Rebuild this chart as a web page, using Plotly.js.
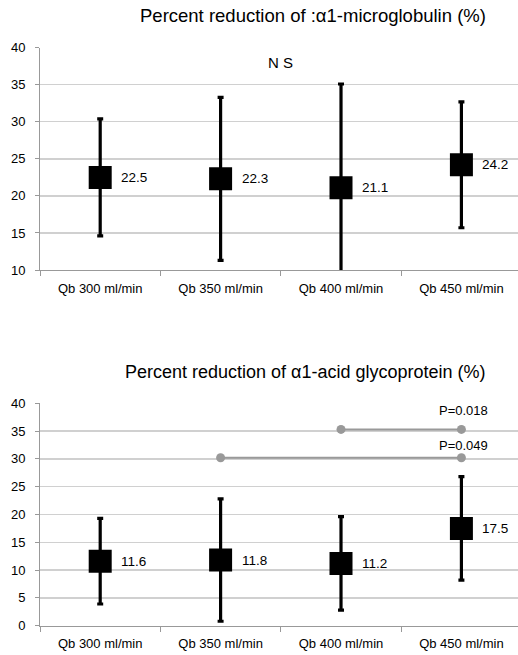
<!DOCTYPE html>
<html><head><meta charset="utf-8">
<script src="https://cdn.plot.ly/plotly-3.0.1.min.js"></script>
<style>html,body{margin:0;padding:0;background:#fff}</style>
</head><body><div id="chart" style="width:518px;height:655px"></div>
<script>
const categories = ["Qb 300 ml/min", "Qb 350 ml/min", "Qb 400 ml/min", "Qb 450 ml/min"];
const a1mMeans = [22.5, 22.3, 21.1, 24.2];
const a1mErrors = [7.9, 11.0, 14.0, 8.5];
const agpMeans = [11.6, 11.8, 11.2, 17.5];
const agpErrors = [7.7, 11.0, 8.4, 9.3];
const sigFrom = [categories[2], categories[1]];
const sigTo = [categories[3], categories[3]];
const sigLevels = [35.3, 30.2];
const sigLabels = ["P=0.018", "P=0.049"];
const sigLabelY = [38.7, 32.4];
const nsLabel = "N S";
const nsY = 38;
const titleTop = "Percent reduction of :α1-microglobulin (%)";
const titleBottom = "Percent reduction of α1-acid glycoprotein (%)";

const FONT = '"Liberation Sans", Arial, Helvetica, sans-serif';

function meanTrace(means, errs, xa, ya) {
  return {
    type: 'scatter', mode: 'markers', x: categories, y: means,
    xaxis: xa, yaxis: ya,
    marker: {symbol: 'square', size: 23, color: '#000'},
    error_y: {type: 'data', array: errs, visible: true, color: '#000', thickness: 3.2, width: 3},
    cliponaxis: true, hoverinfo: 'skip'
  };
}

const traces = [
  meanTrace(a1mMeans, a1mErrors, 'x', 'y'),
];
for (let i = 0; i < sigLevels.length; i++) {
  traces.push({
    type: 'scatter', mode: 'lines+markers', x: [sigFrom[i], sigTo[i]], y: [sigLevels[i], sigLevels[i]],
    xaxis: 'x2', yaxis: 'y2',
    line: {color: '#999', width: 2}, marker: {color: '#999', size: 9}, hoverinfo: 'skip'
  });
}
traces.push(meanTrace(agpMeans, agpErrors, 'x2', 'y2'));

function xax(anchor) {
  return {
    type: 'category', categoryorder: 'array', categoryarray: categories,
    range: [-0.5, 3.47], anchor: anchor, tickson: 'boundaries',
    ticks: 'outside', ticklen: 5, tickcolor: '#999', tickwidth: 1,
    showline: true, linecolor: '#999', linewidth: 1, showgrid: false, zeroline: false,
    tickfont: {size: 13, color: '#000', family: FONT}, ticklabelstandoff: 6,
    fixedrange: true, automargin: false
  };
}
function yax(anchor, range, domain) {
  return {
    range: range, domain: domain, anchor: anchor, dtick: 5, tick0: 0,
    ticks: 'outside', ticklen: 4, tickcolor: '#999', tickwidth: 1,
    showline: true, linecolor: '#999', linewidth: 1,
    showgrid: true, gridcolor: '#d0d0d0', gridwidth: 1.3, zeroline: false,
    tickfont: {size: 13, color: '#000', family: FONT}, ticklabelstandoff: 7,
    fixedrange: true, automargin: false
  };
}

const annotations = [
  {xref: 'paper', yref: 'paper', x: 0.937, y: 1 - 15 / 655, xanchor: 'right', yanchor: 'middle',
   text: titleTop, showarrow: false, font: {size: 18.5, color: '#000', family: FONT}},
  {xref: 'paper', yref: 'paper', x: 0.937, y: 1 - 372 / 655, xanchor: 'right', yanchor: 'middle',
   text: titleBottom, showarrow: false, font: {size: 18, color: '#000', family: FONT}},
  {xref: 'x', yref: 'y', x: 1.5, y: nsY, text: nsLabel, showarrow: false,
   font: {size: 15, color: '#000', family: FONT}}
];
function valueLabels(means, xr, yr) {
  means.forEach((v, i) => annotations.push({
    xref: xr, yref: yr, x: categories[i], y: v, text: v.toFixed(1), showarrow: false,
    xanchor: 'left', yanchor: 'middle', xshift: 19, font: {size: 13.5, color: '#000', family: FONT}
  }));
}
valueLabels(a1mMeans, 'x', 'y');
valueLabels(agpMeans, 'x2', 'y2');
for (let i = 0; i < sigLabels.length; i++) {
  annotations.push({xref: 'x2', yref: 'y2', x: sigTo[i], y: sigLabelY[i], text: sigLabels[i],
    showarrow: false, xshift: 2, font: {size: 13, color: '#000', family: FONT}});
}

const layout = {
  width: 518, height: 655, margin: {l: 40, r: 0, t: 0, b: 0},
  paper_bgcolor: '#fff', plot_bgcolor: '#fff', showlegend: false,
  font: {family: FONT, color: '#000'},
  xaxis: xax('y'), yaxis: yax('x', [10, 40], [1 - 270 / 655, 1 - 47.7 / 655]),
  xaxis2: xax('y2'), yaxis2: yax('x2', [0, 40], [1 - 625.7 / 655, 1 - 403.3 / 655]),
  annotations: annotations
};

Plotly.newPlot('chart', traces, layout, {displayModeBar: false, staticPlot: true});
</script></body></html>
